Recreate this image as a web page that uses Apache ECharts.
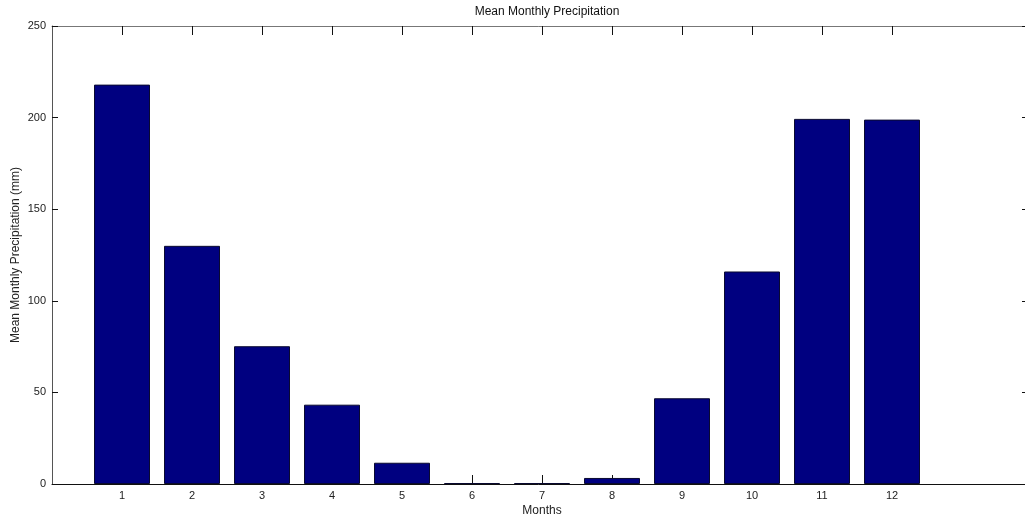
<!DOCTYPE html>
<html>
<head>
<meta charset="utf-8">
<script src="https://cdn.jsdelivr.net/npm/echarts@6/dist/echarts.min.js"></script>
<style>
  html, body { margin: 0; padding: 0; background: #fff; }
  #chart { width: 1025px; height: 517px; }
</style>
</head>
<body>
<div id="chart"></div>
<script>
// Month numbers and mean monthly precipitation (mm)
const months = [1, 2, 3, 4, 5, 6, 7, 8, 9, 10, 11, 12];
const precipitation = [218, 130, 75.2, 43.3, 11.6, 0.5, 0.5, 3.3, 46.8, 116, 199.3, 198.9];
const yTicks = [0, 50, 100, 150, 200, 250];

const FONT = 'Liberation Sans, Arial, sans-serif';
const textStyle = { fontFamily: FONT, fontSize: 11, color: '#222' };
const nameStyle = { fontFamily: FONT, fontSize: 12, color: '#222' };

const chart = echarts.init(document.getElementById('chart'), null, { renderer: 'canvas' });

chart.setOption({
  backgroundColor: '#fff',
  animation: false,
  title: {
    text: 'Mean Monthly Precipitation',
    left: 542,
    textAlign: 'center',
    top: 1,
    textStyle: { fontFamily: FONT, fontSize: 12, fontWeight: 'normal', color: '#111' }
  },
  grid: { left: 52, right: -7, top: 26, bottom: 33, containLabel: false, outerBoundsMode: 'none' },
  xAxis: [
    {
      type: 'value', position: 'bottom', min: 0, max: 14,
      name: 'Months', nameLocation: 'middle', nameGap: 21, nameMoveOverlap: false,
      nameTextStyle: nameStyle,
      axisLine: { show: true, onZero: false, lineStyle: { color: '#111', width: 1 } },
      axisTick: { show: true, inside: true, length: 9, customValues: months, lineStyle: { color: '#111' } },
      axisLabel: { customValues: months, margin: 6, ...textStyle },
      splitLine: { show: false }
    },
    {
      type: 'value', position: 'top', min: 0, max: 14,
      axisLine: { show: true, onZero: false, lineStyle: { color: '#777', width: 1 } },
      axisTick: { show: true, inside: true, length: 9, customValues: months, lineStyle: { color: '#111' } },
      axisLabel: { show: false },
      splitLine: { show: false }
    }
  ],
  yAxis: [
    {
      type: 'value', position: 'left', min: 0, max: 250, interval: 50,
      name: 'Mean Monthly Precipitation (mm)', nameLocation: 'middle', nameGap: 30, nameMoveOverlap: false,
      nameRotate: 90,
      nameTextStyle: nameStyle,
      axisLine: { show: true, onZero: false, lineStyle: { color: '#555', width: 1 } },
      axisTick: { show: true, inside: true, length: 6, customValues: yTicks, lineStyle: { color: '#111' } },
      axisLabel: { margin: 6, customValues: yTicks, ...textStyle },
      splitLine: { show: false }
    },
    {
      type: 'value', position: 'right', min: 0, max: 250, interval: 50,
      axisLine: { show: true, onZero: false, lineStyle: { color: '#555', width: 1 } },
      axisTick: { show: true, inside: true, length: 10, lineStyle: { color: '#111' } },
      axisLabel: { show: false },
      splitLine: { show: false }
    }
  ],
  series: [{
    type: 'bar',
    xAxisIndex: 0,
    yAxisIndex: 0,
    data: months.map((m, i) => [m, precipitation[i]]),
    barWidth: '80%',
    itemStyle: { color: '#000080', borderColor: '#0a0a30', borderWidth: 1 },
    emphasis: { disabled: true }
  }]
});
</script>
</body>
</html>
